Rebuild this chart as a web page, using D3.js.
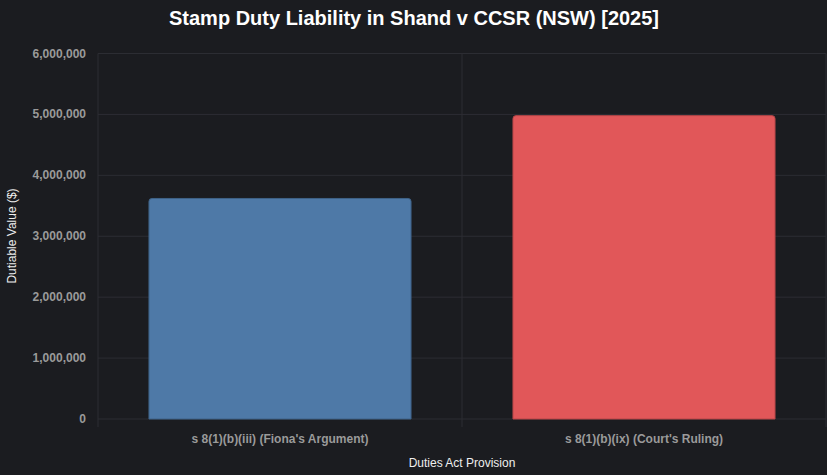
<!DOCTYPE html><html><head><meta charset="utf-8"><script src="https://cdn.jsdelivr.net/npm/d3@7"></script>
<style>body{margin:0;background:#1b1c20}svg{display:block;font-family:"Liberation Sans",Arial,sans-serif}</style></head><body><svg id="c" width="827" height="475"></svg><script>
const categories=["s 8(1)(b)(iii) (Fiona's Argument)","s 8(1)(b)(ix) (Court's Ruling)"];
const values=[3620000,4980000];
const colors=["#4e79a7","#e15759"];
const yTicks=[0,1000000,2000000,3000000,4000000,5000000,6000000];
const svg=d3.select("#c");
svg.append("rect").attr("width",827).attr("height",475).attr("fill","#1b1c20");
const L=98,R=826,T=53.5,B=419;
const x=d3.scaleBand().domain(categories).range([L,R]).paddingInner(0.28).paddingOuter(0.14);
const xg=d3.scaleBand().domain(categories).range([L,R]);
const y=d3.scaleLinear().domain([0,6000000]).range([B,T]);
const g=svg.append("g");
yTicks.forEach(t=>{g.append("line").attr("x1",L).attr("x2",R).attr("y1",y(t)).attr("y2",y(t)).attr("stroke","#2c2d33");
g.append("text").attr("x",L-12).attr("y",y(t)+4).attr("text-anchor","end").attr("fill","#9a9a9a").attr("font-size",12).attr("font-weight","bold").text(d3.format(",")(t));});
[L,L+xg.bandwidth(),R].forEach(v=>g.append("line").attr("x1",v).attr("x2",v).attr("y1",T).attr("y2",B+8).attr("stroke","#2c2d33"));
categories.forEach((c,i)=>{const x0=x(c),w=x.bandwidth(),y0=y(values[i]),r=3;
g.append("path").attr("d",`M${x0},${B}V${y0+r}Q${x0},${y0} ${x0+r},${y0}H${x0+w-r}Q${x0+w},${y0} ${x0+w},${y0+r}V${B}Z`).attr("fill",colors[i]).attr("stroke",d3.color(colors[i]).darker(0.6)).attr("stroke-width",1);
g.append("text").attr("x",xg(c)+xg.bandwidth()/2).attr("y",443).attr("text-anchor","middle").attr("fill","#9a9a9a").attr("font-size",12).attr("font-weight","bold").text(c);});
svg.append("text").attr("x",462).attr("y",467).attr("text-anchor","middle").attr("fill","#eee").attr("font-size",12).text("Duties Act Provision");
svg.append("text").attr("transform","translate(16,236) rotate(-90)").attr("text-anchor","middle").attr("fill","#eee").attr("font-size",12).text("Dutiable Value ($)");
svg.append("text").attr("x",414).attr("y",25).attr("text-anchor","middle").attr("fill","#fff").attr("font-size",20).attr("font-weight","bold").text("Stamp Duty Liability in Shand v CCSR (NSW) [2025]");
</script></body></html>
